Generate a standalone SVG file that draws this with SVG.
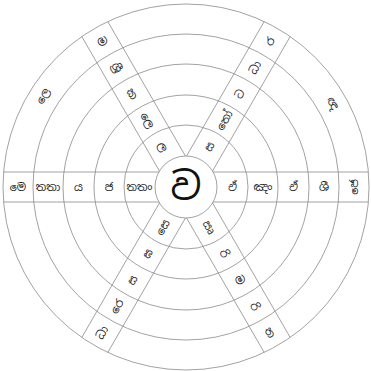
<svg xmlns="http://www.w3.org/2000/svg" width="371" height="371" viewBox="0 0 371 371">
<style>
.ring{fill:none;stroke:#8a8a8a;stroke-width:0.8}
.band{stroke:#8a8a8a;stroke-width:0.8}
.t{font-family:"Noto Sans Sinhala","Noto Sans",sans-serif;font-size:11px;fill:#222;text-anchor:middle;dominant-baseline:central}
.c{font-family:"Noto Sans Sinhala","Noto Sans",sans-serif;font-size:38px;fill:#111;text-anchor:middle;dominant-baseline:central}
</style>
<rect width="371" height="371" fill="#fff"/>
<g id="connectors">
<circle class="ring" cx="186" cy="187" r="183"/>
<circle class="ring" cx="186" cy="187" r="153"/>
<circle class="ring" cx="186" cy="187" r="123"/>
<circle class="ring" cx="186" cy="187" r="92"/>
<circle class="ring" cx="186" cy="187" r="62"/>
<line class="band" x1="3.6" y1="172" x2="368.4" y2="172"/>
<line class="band" x1="3.6" y1="202" x2="368.4" y2="202"/>
<line class="band" x1="290.19" y1="36.54" x2="107.79" y2="352.46"/>
<line class="band" x1="264.21" y1="21.54" x2="81.81" y2="337.46"/>
<line class="band" x1="107.79" y1="21.54" x2="290.19" y2="337.46"/>
<line class="band" x1="81.81" y1="36.54" x2="264.21" y2="352.46"/>
</g>
<g id="center">
<circle cx="186" cy="187" r="31" fill="#fff" stroke="#8a8a8a" stroke-width="0.8"/>
<text class="c" x="186" y="186">ව</text>
</g>
<g id="left-band">
<text class="t" x="139.5" y="187">තතං</text>
<text class="t" x="109" y="187">ජ</text>
<text class="t" x="78.5" y="187">ය</text>
<text class="t" x="48" y="187">තතා</text>
<text class="t" x="18" y="187">මෙ</text>
</g>
<g id="right-band">
<text class="t" x="232.5" y="187">ඒ</text>
<text class="t" x="263" y="187">ඤං</text>
<text class="t" x="293.5" y="187">ඒ</text>
<text class="t" x="324" y="187">ශී</text>
<text class="t" transform="translate(353.5 187) rotate(-90)">ජෙ</text>
</g>
<g id="upper-right-band">
<text class="t" transform="translate(209.25 146.7) rotate(-60)">ස</text>
<text class="t" transform="translate(224.5 120.3) rotate(-60)">තෝ</text>
<text class="t" transform="translate(239.75 93.9) rotate(-60)">ට</text>
<text class="t" transform="translate(255 67.5) rotate(-60)">ධා</text>
<text class="t" transform="translate(270 41.5) rotate(-60)">ර</text>
</g>
<g id="upper-left-band">
<text class="t" transform="translate(162.75 146.7) rotate(60)">ල</text>
<text class="t" transform="translate(147.5 120.3) rotate(60)">ලෙ</text>
<text class="t" transform="translate(132.25 93.9) rotate(60)">ක</text>
<text class="t" transform="translate(117 67.5) rotate(60)">ශ්‍රී</text>
<text class="t" transform="translate(102 41.5) rotate(60)">ම</text>
</g>
<g id="lower-left-band">
<text class="t" transform="translate(162.75 227.3) rotate(-60)">සෙ</text>
<text class="t" transform="translate(147.5 253.7) rotate(-60)">ඝ</text>
<text class="t" transform="translate(132.25 280.1) rotate(-60)">ස</text>
<text class="t" transform="translate(117 306.5) rotate(-60)">රෙ</text>
<text class="t" transform="translate(102 332.5) rotate(-60)">ධා</text>
</g>
<g id="lower-right-band">
<text class="t" transform="translate(209.25 227.3) rotate(60)">ඍ</text>
<text class="t" transform="translate(224.5 253.7) rotate(60)">රි</text>
<text class="t" transform="translate(239.75 280.1) rotate(60)">ම</text>
<text class="t" transform="translate(255 306.5) rotate(60)">රි</text>
<text class="t" transform="translate(270 332.5) rotate(60)">ත</text>
</g>
<g id="outer-labels">
<text class="t" transform="translate(43 96) rotate(-60)">ලෙ</text>
<text class="t" transform="translate(333 103) rotate(60)">ඥ</text>
</g>
</svg>
